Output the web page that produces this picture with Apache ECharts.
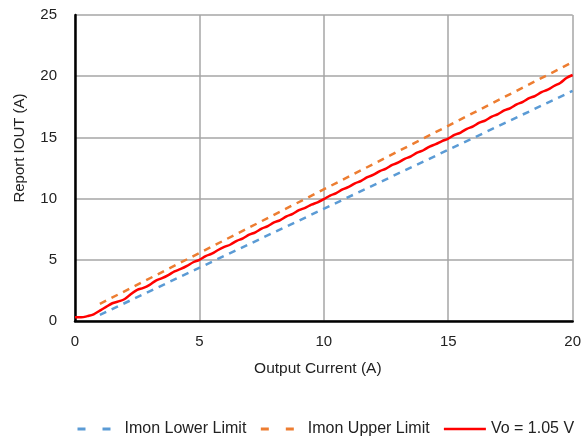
<!DOCTYPE html>
<html>
<head>
<meta charset="utf-8">
<script src="https://cdn.jsdelivr.net/npm/echarts@6/dist/echarts.min.js"></script>
<style>
  html, body { margin: 0; padding: 0; background: #fff; }
  #chart { width: 584px; height: 439px; }
</style>
</head>
<body>
<div id="chart"></div>
<script>
const lowerLimit = [[1, 0.5], [20, 18.8]]
const upperLimit = [[1, 1.4], [20, 21.15]]

// measured Vo = 1.05 V curve, every 0.25 A
const measuredX = [
  0, 0.25, 0.5, 0.75, 1, 1.25, 1.5, 1.75, 2, 2.25, 2.5, 2.75, 3, 3.25, 3.5, 3.75,
  4, 4.25, 4.5, 4.75, 5, 5.25, 5.5, 5.75, 6, 6.25, 6.5, 6.75, 7, 7.25, 7.5, 7.75,
  8, 8.25, 8.5, 8.75, 9, 9.25, 9.5, 9.75, 10, 10.25, 10.5, 10.75, 11, 11.25, 11.5, 11.75,
  12, 12.25, 12.5, 12.75, 13, 13.25, 13.5, 13.75, 14, 14.25, 14.5, 14.75, 15, 15.25, 15.5, 15.75,
  16, 16.25, 16.5, 16.75, 17, 17.25, 17.5, 17.75, 18, 18.25, 18.5, 18.75, 19, 19.25, 19.5, 19.75, 20
]
const measuredY = [
  0.30, 0.30, 0.40, 0.55, 0.85, 1.15, 1.45, 1.60, 1.80, 2.20, 2.55, 2.70, 2.95, 3.30, 3.50, 3.75,
  4.05, 4.25, 4.50, 4.80, 5.00, 5.30, 5.50, 5.80, 6.05, 6.25, 6.55, 6.75, 7.05, 7.25, 7.55, 7.75,
  8.05, 8.25, 8.55, 8.75, 9.05, 9.25, 9.50, 9.70, 9.95, 10.25, 10.45, 10.75, 10.95, 11.25, 11.45, 11.75,
  11.95, 12.25, 12.45, 12.75, 12.95, 13.25, 13.45, 13.75, 13.95, 14.25, 14.45, 14.70, 14.90, 15.20, 15.40, 15.70,
  15.90, 16.20, 16.40, 16.70, 16.90, 17.20, 17.40, 17.70, 17.90, 18.20, 18.40, 18.70, 18.90, 19.20, 19.45, 19.85, 20.10
]

const font = "Liberation Sans"
const chart = echarts.init(document.getElementById("chart"))

chart.setOption({
  animation: false,
  textStyle: { fontFamily: font },
  grid: { left: 75, right: 9, top: 15, bottom: 118 },
  legend: {
    top: 416,
    left: 71,
    itemWidth: 42,
    itemHeight: 10,
    itemGap: 13,
    itemStyle: { opacity: 0 },
    textStyle: { fontSize: 16, color: "#222", fontFamily: font },
    data: [
      { name: "Imon Lower Limit", lineStyle: { type: [8, 17], width: 3 } },
      { name: "Imon Upper Limit", lineStyle: { type: [8, 17], width: 3 } },
      { name: "Vo = 1.05 V", lineStyle: { width: 2.5 } }
    ]
  },
  xAxis: {
    type: "value",
    min: 0,
    max: 20,
    interval: 5,
    name: "Output Current (A)",
    nameLocation: "middle",
    nameGap: 40,
    nameTextStyle: { fontSize: 15.5, color: "#222", padding: [0, 12, 0, 0] },
    axisLine: { onZero: false, lineStyle: { color: "#000", width: 2.5 } },
    axisTick: { show: false },
    axisLabel: { fontSize: 15, color: "#222", margin: 13 },
    splitLine: { lineStyle: { color: "#a6a6a6", width: 1.5 } }
  },
  yAxis: {
    type: "value",
    min: 0,
    max: 25,
    interval: 5,
    name: "Report IOUT (A)",
    nameLocation: "middle",
    nameGap: 48,
    nameTextStyle: { fontSize: 15, color: "#222", padding: [0, 0, 0, 40] },
    axisLine: { show: true, lineStyle: { color: "#000", width: 2.5 } },
    axisTick: { show: false },
    axisLabel: { fontSize: 15, color: "#222", margin: 18 },
    splitLine: { lineStyle: { color: "#a6a6a6", width: 1.5 } }
  },
  series: [
    {
      name: "Imon Lower Limit",
      type: "line",
      symbol: "none",
      data: lowerLimit,
      lineStyle: { color: "#5b9bd5", width: 2.5, type: [7, 6] },
      itemStyle: { color: "#5b9bd5" },
      z: 2
    },
    {
      name: "Imon Upper Limit",
      type: "line",
      symbol: "none",
      data: upperLimit,
      lineStyle: { color: "#ed7d31", width: 2.5, type: [7, 6] },
      itemStyle: { color: "#ed7d31" },
      z: 2
    },
    {
      name: "Vo = 1.05 V",
      type: "line",
      symbol: "none",
      smooth: 0.4,
      data: measuredX.map((x, i) => [x, measuredY[i]]),
      lineStyle: { color: "#ff0000", width: 2.5 },
      itemStyle: { color: "#ff0000" },
      z: 3
    }
  ]
})
</script>
</body>
</html>
